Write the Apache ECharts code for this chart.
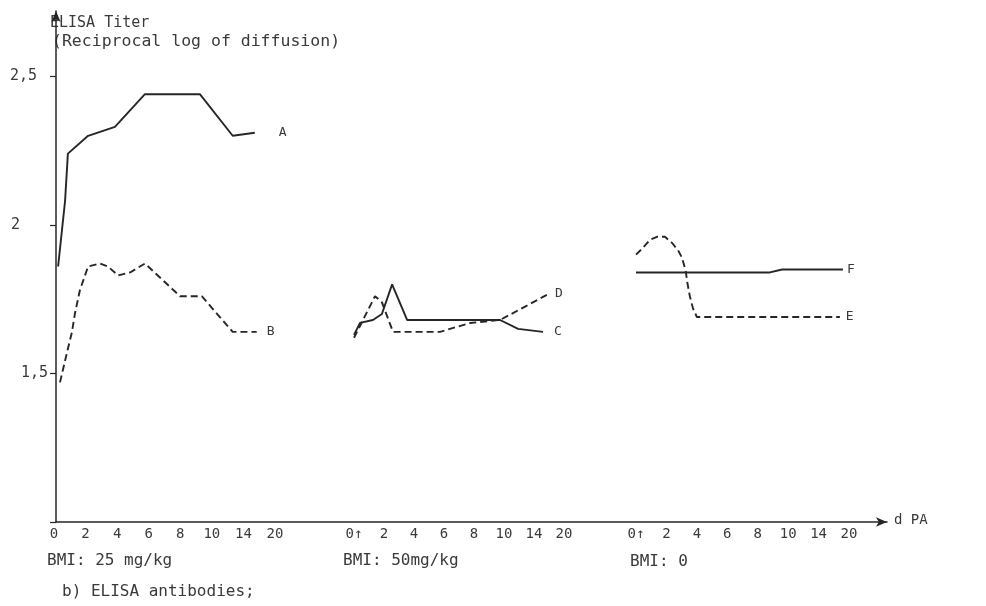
<!DOCTYPE html>
<html><head><meta charset="utf-8">
<script src="https://cdn.jsdelivr.net/npm/echarts@6/dist/echarts.min.js"></script>
<style>html,body{margin:0;padding:0;background:#fff}#c{width:986px;height:606px}</style>
</head><body><div id="c"></div>
<script>
// Tick labels (days) for each dose panel; x values below are positions in tick steps
const tickLabels = ["0","2","4","6","8","10","14","20"];
const tickLabelsInj = ["0\u2191","2","4","6","8","10","14","20"];
const yTickLabels = {"1.5":"{c|1,5}","2":"{b|2}","2.5":"{a|2,5}"};
const panelTitles = ["BMI: 25 mg/kg","BMI: 50mg/kg","BMI: 0"];

// Panel 1: BMI 25 mg/kg
const seriesA = [[0.13,1.86],[0.35,2.08],[0.44,2.24],[1.08,2.30],[1.93,2.33],[2.88,2.44],[4.62,2.44],[5.66,2.30],[6.36,2.31]];
const seriesB = [[0.19,1.47],[0.41,1.57],[0.57,1.64],[0.66,1.70],[0.82,1.78],[1.08,1.86],[1.46,1.87],[1.71,1.86],[2.03,1.83],[2.41,1.84],[2.88,1.87],[3.99,1.76],[4.68,1.76],[5.66,1.64],[6.42,1.64]];
// Panel 2: BMI 50 mg/kg
const seriesC = [[0,1.63],[0.2,1.67],[0.63,1.68],[0.93,1.70],[1.27,1.80],[1.77,1.68],[4.87,1.68],[5.47,1.65],[6.3,1.64]];
const seriesD = [[0,1.62],[0.7,1.76],[0.93,1.74],[1.3,1.64],[2.87,1.64],[3.87,1.67],[4.87,1.68],[6.53,1.77]];
// Panel 3: BMI 0
const seriesE = [[0,1.90],[0.2,1.92],[0.46,1.95],[0.69,1.96],[0.95,1.96],[1.18,1.94],[1.38,1.915],[1.51,1.89],[1.58,1.865],[1.64,1.84],[1.68,1.81],[1.77,1.76],[1.87,1.72],[2.0,1.69],[6.7,1.69]];
const seriesF = [[0,1.84],[4.4,1.84],[4.8,1.85],[6.8,1.85]];

const INK = '#262626';
const TXT = '#3a3a3a';
const FONT = '"DejaVu Sans Mono", monospace';
const YMIN = 1, YMAX = 2.72;
const TOP = 11, BOTTOM = 84;

const panels = [
  {left: 54, width: 221, labels: tickLabels},
  {left: 354, width: 210, labels: tickLabelsInj},
  {left: 636, width: 213, labels: tickLabelsInj}
];

const yRich = {
  a: {padding: [0, 11, 0, 0], color: TXT, fontFamily: FONT, fontSize: 15},
  b: {padding: [0, 28, 0, 0], color: TXT, fontFamily: FONT, fontSize: 15},
  c: {padding: [0, 0, 0, 0], color: TXT, fontFamily: FONT, fontSize: 15}
};

const grids = [{left: 56, right: 99, top: TOP, bottom: BOTTOM, outerBoundsMode: 'none'}];
const xAxes = [{
  gridIndex: 0, type: 'value', min: 0, max: 1,
  axisLine: {show: true, lineStyle: {color: INK, width: 1.5}, symbol: ['none','arrow'], symbolSize: [7,11]},
  axisTick: {show: false}, axisLabel: {show: false}, splitLine: {show: false}
}];
const yAxes = [{
  gridIndex: 0, type: 'value', min: YMIN, max: YMAX, interval: 0.5,
  axisLine: {show: true, lineStyle: {color: INK, width: 1.5}, symbol: ['none','arrow'], symbolSize: [7,11]},
  axisTick: {show: true, length: 6, lineStyle: {color: INK, width: 1.2}},
  axisLabel: {showMaxLabel: false, margin: 8, color: TXT, fontFamily: FONT, fontSize: 15, rich: yRich,
    formatter: v => yTickLabels[String(+v.toFixed(2))] || ''},
  splitLine: {show: false}
}];
panels.forEach((p, i) => {
  grids.push({left: p.left, width: p.width, top: TOP, bottom: BOTTOM, outerBoundsMode: 'none'});
  xAxes.push({
    gridIndex: i + 1, type: 'value', min: 0, max: 7, interval: 1,
    axisLine: {show: false}, axisTick: {show: false}, splitLine: {show: false},
    axisLabel: {margin: 5, color: TXT, fontFamily: FONT, fontSize: 14, showMaxLabel: true, showMinLabel: true,
      formatter: v => p.labels[Math.round(v)] || ''}
  });
  yAxes.push({gridIndex: i + 1, type: 'value', min: YMIN, max: YMAX, show: false});
});

function line(name, data, idx, dashed, dist) {
  return {
    name, type: 'line', data, xAxisIndex: idx, yAxisIndex: idx,
    showSymbol: false, symbol: 'none', clip: false, animation: false,
    lineStyle: {color: INK, width: 1.9, type: dashed ? [7,4] : 'solid'},
    endLabel: {show: true, formatter: '{a}', distance: dist, color: TXT, fontFamily: FONT, fontSize: 13}
  };
}

const chart = echarts.init(document.getElementById('c'), null, {renderer: 'canvas'});
chart.setOption({
  backgroundColor: '#ffffff',
  animation: false,
  grid: grids, xAxis: xAxes, yAxis: yAxes,
  series: [
    line('A', seriesA, 1, false, 24),
    line('B', seriesB, 1, true, 10),
    line('C', seriesC, 2, false, 11),
    line('D', seriesD, 2, true, 5),
    line('E', seriesE, 3, true, 6),
    line('F', seriesF, 3, false, 4)
  ],
  graphic: [
    {type: 'text', left: 50, top: 16, style: {text: 'ELISA Titer', font: '15px ' + FONT, fill: TXT}},
    {type: 'text', left: 52, top: 33, style: {text: '(Reciprocal log of diffusion)', font: '16.5px ' + FONT, fill: TXT}},
    {type: 'text', left: 47, top: 553, style: {text: panelTitles[0], font: '16px ' + FONT, fill: TXT}},
    {type: 'text', left: 343, top: 553, style: {text: panelTitles[1], font: '16px ' + FONT, fill: TXT}},
    {type: 'text', left: 630, top: 554, style: {text: panelTitles[2], font: '16px ' + FONT, fill: TXT}},
    {type: 'text', left: 62, top: 584, style: {text: 'b) ELISA antibodies;', font: '16px ' + FONT, fill: TXT}},
    {type: 'text', left: 894, top: 513, style: {text: 'd PA', font: '14px ' + FONT, fill: TXT}}
  ]
});
</script>
</body></html>
